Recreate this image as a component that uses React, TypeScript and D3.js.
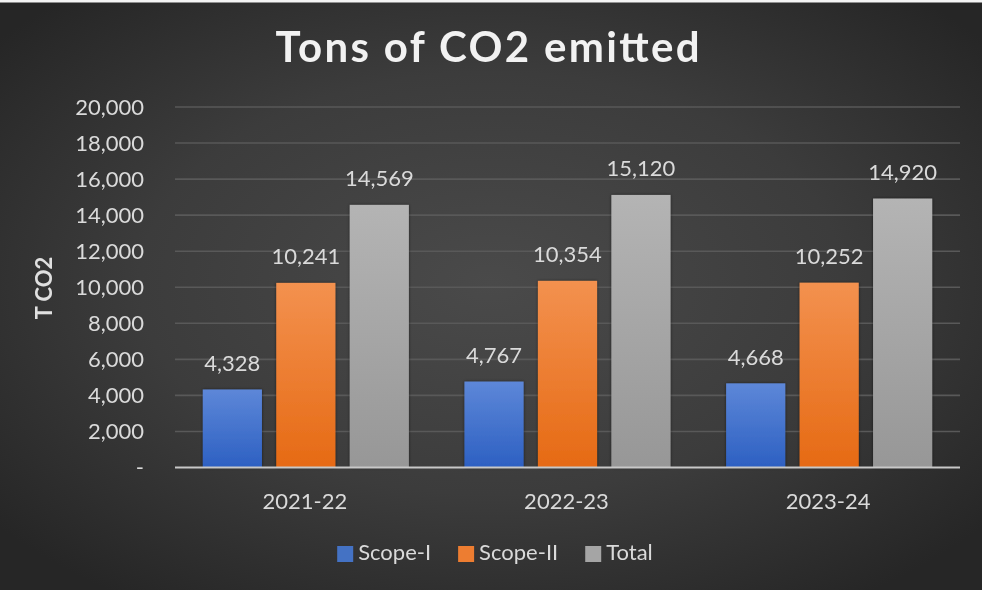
import React from "react";
import * as d3 from "d3";

const W = 982;
const H = 590;

const categories = ["2021-22", "2022-23", "2023-24"];
const seriesNames = ["Scope-I", "Scope-II", "Total"];
const scope1 = [4328, 4767, 4668];
const scope2 = [10241, 10354, 10252];
const total = [14569, 15120, 14920];
const yTicks = [0, 2000, 4000, 6000, 8000, 10000, 12000, 14000, 16000, 18000, 20000];

const seriesValues = [scope1, scope2, total];
const seriesColors = [
  { top: "#5d87d8", bottom: "#2d60c2", swatch: "#4472c4" },
  { top: "#f3914f", bottom: "#e66a14", swatch: "#ed7d31" },
  { top: "#b4b4b4", bottom: "#979797", swatch: "#a5a5a5" },
];

const FONT = "Lato, 'Noto Sans', sans-serif";
const fmt = d3.format(",");

const margin = { left: 175, right: 22, top: 107, bottom: 122.5 };

function measure(text: string, font: string) {
  const c = document.createElement("canvas").getContext("2d");
  if (!c) return text.length * 10;
  c.font = font;
  return c.measureText(text).width;
}

export default function App() {
  const plotW = W - margin.left - margin.right;
  const plotH = H - margin.top - margin.bottom;

  const x0 = d3.scaleBand<string>().domain(categories).range([0, plotW]).padding(0);
  const x1 = d3
    .scaleBand<string>()
    .domain(seriesNames)
    .range([27.8, x0.bandwidth() - 27.8])
    .paddingInner(0.195)
    .paddingOuter(0);
  const y = d3.scaleLinear().domain([0, 20000]).range([plotH, 0]);

  // legend layout, centred beneath the plot
  const legendFont = `22px ${FONT}`;
  const sw = 16;
  const swGap = 5;
  const itemGap = 27;
  const widths = seriesNames.map((s) => measure(s, legendFont));
  const totalW =
    widths.reduce((a, b) => a + b, 0) + seriesNames.length * (sw + swGap) + itemGap * (seriesNames.length - 1);
  let lx = 495 - totalW / 2;
  const legendItems = seriesNames.map((s, i) => {
    const item = { name: s, x: lx, color: seriesColors[i].swatch };
    lx += sw + swGap + widths[i] + itemGap;
    return item;
  });

  return (
    <div style={{ position: "fixed", left: 0, top: 0, width: W, height: H }}>
      <svg width={W} height={H} style={{ display: "block" }} fontFamily={FONT}>
        <defs>
          <radialGradient id="bg" cx="50%" cy="48%" r="65%">
            <stop offset="0%" stopColor="#4a4a4a" />
            <stop offset="55%" stopColor="#3c3c3c" />
            <stop offset="100%" stopColor="#262626" />
          </radialGradient>
          {seriesColors.map((c, i) => (
            <linearGradient key={i} id={`bar${i}`} x1="0" y1="0" x2="0" y2="1">
              <stop offset="0%" stopColor={c.top} />
              <stop offset="100%" stopColor={c.bottom} />
            </linearGradient>
          ))}
          <filter id="shadow" x="-20%" y="-10%" width="140%" height="120%">
            <feDropShadow dx="0" dy="0" stdDeviation="1.6" floodColor="#000" floodOpacity="0.55" />
          </filter>
        </defs>

        <rect width={W} height={H} fill="url(#bg)" />
        <rect width={W} height={2.5} fill="#f4f4f4" />

        <text
          x={487.5}
          y={62}
          textAnchor="middle"
          fontSize={42}
          fontWeight={700}
          fill="#f2f2f2"
          textLength={424}
          lengthAdjust="spacing"
        >
          Tons of CO2 emitted
        </text>

        <text
          transform={`translate(51.5, 288) rotate(-90)`}
          textAnchor="middle"
          fontSize={22}
          fontWeight={700}
          fill="#e0e0e0"
        >
          T CO2
        </text>

        <g transform={`translate(${margin.left},${margin.top})`}>
          {yTicks.map((t) => (
            <g key={t}>
              {t > 0 && (
                <line x1={0} x2={plotW} y1={y(t)} y2={y(t)} stroke="#595959" strokeWidth={1.6} />
              )}
              <text
                x={-31}
                y={y(t)}
                dy="0.36em"
                textAnchor="end"
                fontSize={22}
                fill="#dadada"
              >
                {t === 0 ? "-" : fmt(t)}
              </text>
            </g>
          ))}

          {categories.map((cat, ci) => (
            <g key={cat} transform={`translate(${x0(cat)},0)`}>
              {seriesNames.map((s, si) => {
                const v = seriesValues[si][ci];
                const bx = x1(s) as number;
                return (
                  <g key={s}>
                    <rect
                      x={bx}
                      y={y(v)}
                      width={x1.bandwidth()}
                      height={plotH - y(v)}
                      fill={`url(#bar${si})`}
                      filter="url(#shadow)"
                    />
                    <text
                      x={bx + x1.bandwidth() / 2}
                      y={y(v) - 18.5}
                      textAnchor="middle"
                      fontSize={22}
                      fill="#dadada"
                    >
                      {fmt(v)}
                    </text>
                  </g>
                );
              })}
              <text
                x={x0.bandwidth() / 2 - 1}
                y={plotH + 41.5}
                textAnchor="middle"
                fontSize={22}
                fill="#dadada"
              >
                {cat}
              </text>
            </g>
          ))}

          <line x1={0} x2={plotW} y1={plotH} y2={plotH} stroke="#c8c8c8" strokeWidth={2} />
        </g>

        <g>
          {legendItems.map((it) => (
            <g key={it.name}>
              <rect x={it.x} y={546} width={sw} height={sw} fill={it.color} />
              <text x={it.x + sw + swGap} y={560} fontSize={22} fill="#dadada">
                {it.name}
              </text>
            </g>
          ))}
        </g>
      </svg>
    </div>
  );
}
